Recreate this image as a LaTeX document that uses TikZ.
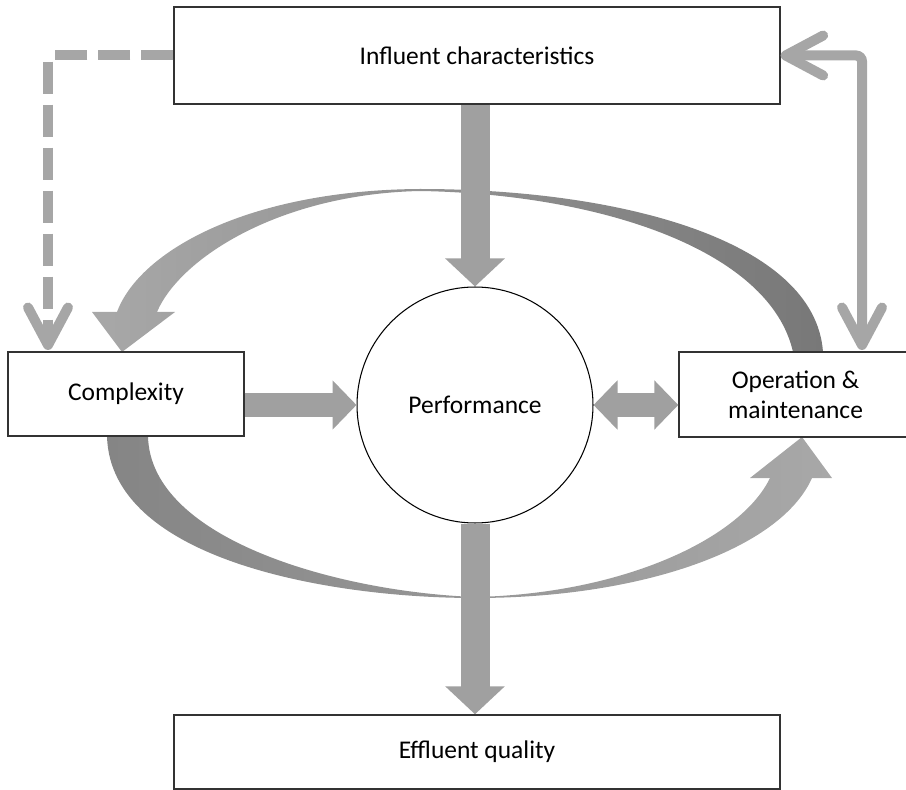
\documentclass[tikz,border=0pt]{standalone}
\usepackage{fontspec}
\setmainfont{Carlito}
\usepackage{xcolor}
\definecolor{boxline}{HTML}{333333}
\definecolor{arrowgray}{HTML}{A0A0A0}
\definecolor{linkgray}{HTML}{A6A6A6}
\definecolor{arclight}{HTML}{A8A8A8}
\definecolor{arcmid}{HTML}{737373}
\definecolor{arcdark}{HTML}{787878}
\definecolor{arcleft}{HTML}{858585}
\usepackage{tikz}
\usetikzlibrary{arrows.meta}

\begin{document}
\begin{tikzpicture}[x=0.02cm,y=-0.02cm,semithick,font=\fontsize{14.5}{17}\selectfont]
            \tikzstyle{box}=[draw=boxline,line width=0.8pt,fill=white,inner sep=0pt,align=center]
            \tikzstyle{downarrow}=[draw=arrowgray,line width=0.58cm,-{Triangle[length=0.56cm,width=1.16cm]}]
            \tikzstyle{sidearrow}=[draw=arrowgray,line width=0.48cm,-{Triangle[length=0.48cm,width=0.96cm]}]
            \tikzstyle{link}=[draw=linkgray,line width=0.2cm,rounded corners=0.12cm,
                {Straight Barb[length=0.75cm,width=0.8cm,round]}-{Straight Barb[length=0.75cm,width=0.8cm,round]}]
            \tikzstyle{dashlink}=[draw=linkgray,line width=0.2cm,rounded corners=0.12cm,
                dash pattern=on 0.64cm off 0.22cm,-{Straight Barb[length=0.75cm,width=0.8cm,round]}]

            \useasboundingbox (0,0) rectangle (906,790);

            \shade[left color=arclight,right color=arcdark]
                (793,352) .. controls (770,250) and (600,194) .. (420,191)
                .. controls (280,194) and (180,258) .. (157,312) -- (175,312) -- (122,352) -- (92,312) -- (117,312)
                .. controls (140,250) and (250,190) .. (420,189)
                .. controls (620,189) and (815,240) .. (823,352) -- cycle;
            \shade[left color=arcleft,middle color=arcmid,right color=arclight]
                (107,436) .. controls (110,560) and (330,598) .. (475,598)
                .. controls (640,598) and (780,550) .. (812,478) -- (832,478) -- (802,437) -- (750,478) -- (770,478)
                .. controls (740,540) and (620,594) .. (475,597)
                .. controls (340,592) and (150,540) .. (148,436) -- cycle;

            \node[box,minimum width=12.12cm,minimum height=1.94cm] (infl) at (477,55.5) {Influent characteristics};
            \node[box,minimum width=4.72cm,minimum height=1.68cm] (cplx) at (126,394) {Complexity};
            \node[draw,circle,fill=white,line width=0.6pt,minimum size=4.72cm,inner sep=0pt] (perf) at (475,405) {Performance};
            \node[box,minimum width=4.66cm,minimum height=1.7cm] (om) at (795.5,394.5) {Operation \&\\maintenance};
            \node[box,minimum width=12.12cm,minimum height=1.48cm] (effl) at (477,752) {Effluent quality};

            \coordinate (cxin) at (48,350);
            \coordinate (omin) at (862,350);

            \draw[dashlink] (infl.west) -| (cxin);
            \draw[link] (infl.east) -| (omin);
            \draw[downarrow] (perf.north |- infl.south) -- (perf.north);
            \draw[downarrow] (perf.south) -- (perf.south |- effl.north);
            \draw[sidearrow] (cplx.east |- perf.west) -- (perf.west);
            \draw[sidearrow,{Triangle[length=0.48cm,width=0.96cm]}-{Triangle[length=0.48cm,width=0.96cm]}] (perf.east) -- (perf.east -| om.west);
\end{tikzpicture}
\end{document}
